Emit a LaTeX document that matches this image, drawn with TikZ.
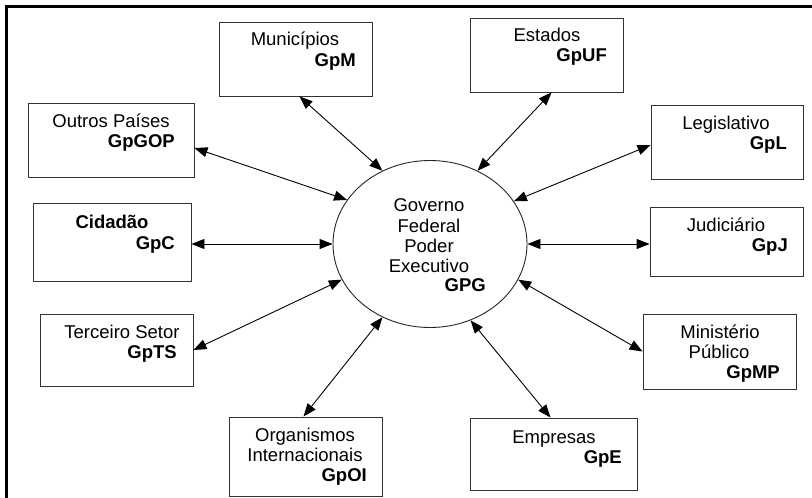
\documentclass[tikz,border=0pt]{standalone}
\usepackage{fontspec}
\setmainfont{Liberation Sans}
\usetikzlibrary{shapes.geometric,arrows.meta}

\tikzset{
  actor/.style={draw=black!80, line width=0.9pt, rectangle, inner sep=0pt},
  core/.style={draw=black!85, line width=0.9pt, ellipse, inner sep=0pt,
               minimum width=194pt, minimum height=167pt},
  lbl/.style={inner sep=0pt, anchor=base, font=\fontsize{18.5}{20}\selectfont},
  code/.style={inner sep=0pt, anchor=base east, font=\fontsize{18.5}{20}\selectfont\bfseries},
  link/.style={line width=0.9pt, {Triangle[length=13pt,width=10pt]}-{Triangle[length=13pt,width=10pt]}}
}

\begin{document}
\begin{tikzpicture}[x=1pt, y=-1pt]
\useasboundingbox (0,0) rectangle (812,498);

% outer frame (top and left edges)
\draw[line width=3pt] (812,6) -- (6,6) -- (6,498);

% central actor
\node[core] (gpg) at (430,244) {};
\node[lbl] (gpg-a) at (429,211.5) {Governo};
\node[lbl] (gpg-b) at (429,232.5) {Federal};
\node[lbl] (gpg-c) at (429,252.5) {Poder};
\node[lbl] (gpg-d) at (429,272.5) {Executivo};
\node[code] (gpg-k) at (486,291.5) {GPG};

% surrounding actors
\node[actor, minimum width=153pt, minimum height=74pt] (gpm) at (295.5,59) {};
\node[lbl] (gpm-t) at (295,45.5) {Municípios};
\node[code] (gpm-k) at (356,66.5) {GpM};

\node[actor, minimum width=153pt, minimum height=74pt] (gpuf) at (546.5,55) {};
\node[lbl] (gpuf-t) at (547,41.5) {Estados};
\node[code] (gpuf-k) at (607,61.5) {GpUF};

\node[actor, minimum width=166pt, minimum height=74pt] (gpgop) at (111,140) {};
\node[lbl] (gpgop-t) at (111,127) {Outros Países};
\node[code] (gpgop-k) at (175,147.5) {GpGOP};

\node[actor, minimum width=152pt, minimum height=74pt] (gpl) at (727,142) {};
\node[lbl] (gpl-t) at (726,129.5) {Legislativo};
\node[code] (gpl-k) at (787,149.5) {GpL};

\node[actor, minimum width=158pt, minimum height=78pt] (gpc) at (112,242) {};
\node[lbl, font=\fontsize{18.5}{20}\selectfont\bfseries] (gpc-t) at (112,228.5) {Cidadão};
\node[code] (gpc-k) at (175,249.5) {GpC};

\node[actor, minimum width=153pt, minimum height=69pt] (gpj) at (726.5,241.5) {};
\node[lbl] (gpj-t) at (726,231.5) {Judiciário};
\node[code] (gpj-k) at (788,251.5) {GpJ};

\node[actor, minimum width=153pt, minimum height=72pt] (gpts) at (116.5,350) {};
\node[lbl] (gpts-t) at (122,338.5) {Terceiro Setor};
\node[code] (gpts-k) at (177,358.5) {GpTS};

\node[actor, minimum width=153pt, minimum height=75pt] (gpmp) at (719.5,351.5) {};
\node[lbl] (gpmp-t) at (720,338.5) {Ministério};
\node[lbl] (gpmp-u) at (719,358.5) {Público};
\node[code] (gpmp-k) at (780,378.5) {GpMP};

\node[actor, minimum width=153pt, minimum height=79pt] (gpoi) at (305.5,456.5) {};
\node[lbl] (gpoi-t) at (305,441.5) {Organismos};
\node[lbl] (gpoi-u) at (305,461.5) {Internacionais};
\node[code] (gpoi-k) at (367,481.5) {GpOI};

\node[actor, minimum width=167pt, minimum height=72pt] (gpe) at (553.5,454) {};
\node[lbl] (gpe-t) at (554,443.5) {Empresas};
\node[code] (gpe-k) at (622,463.5) {GpE};

% two-way relations with the central actor
\draw[link] (gpg.123.9) -- ([xshift=81pt]gpm.south west);
\draw[link] (gpg.57.7) -- ([xshift=82pt]gpuf.south west);
\draw[link] (gpg.152.1) -- ([yshift=-8pt]gpgop.east);
\draw[link] (gpg.27.1) -- ([yshift=-3pt]gpl.west);
\draw[link] (gpg.west) -- (gpg.west -| gpc.east);
\draw[link] (gpg.east) -- (gpg.east -| gpj.west);
\draw[link] (gpg.202.4) -- (gpts.east);
\draw[link] (gpg.338.1) -- (gpmp.west);
\draw[link] (gpg.237.2) -- ([xshift=-2pt]gpoi.north);
\draw[link] (gpg.298.1) -- ([xshift=-3pt]gpe.north);
\end{tikzpicture}
\end{document}
